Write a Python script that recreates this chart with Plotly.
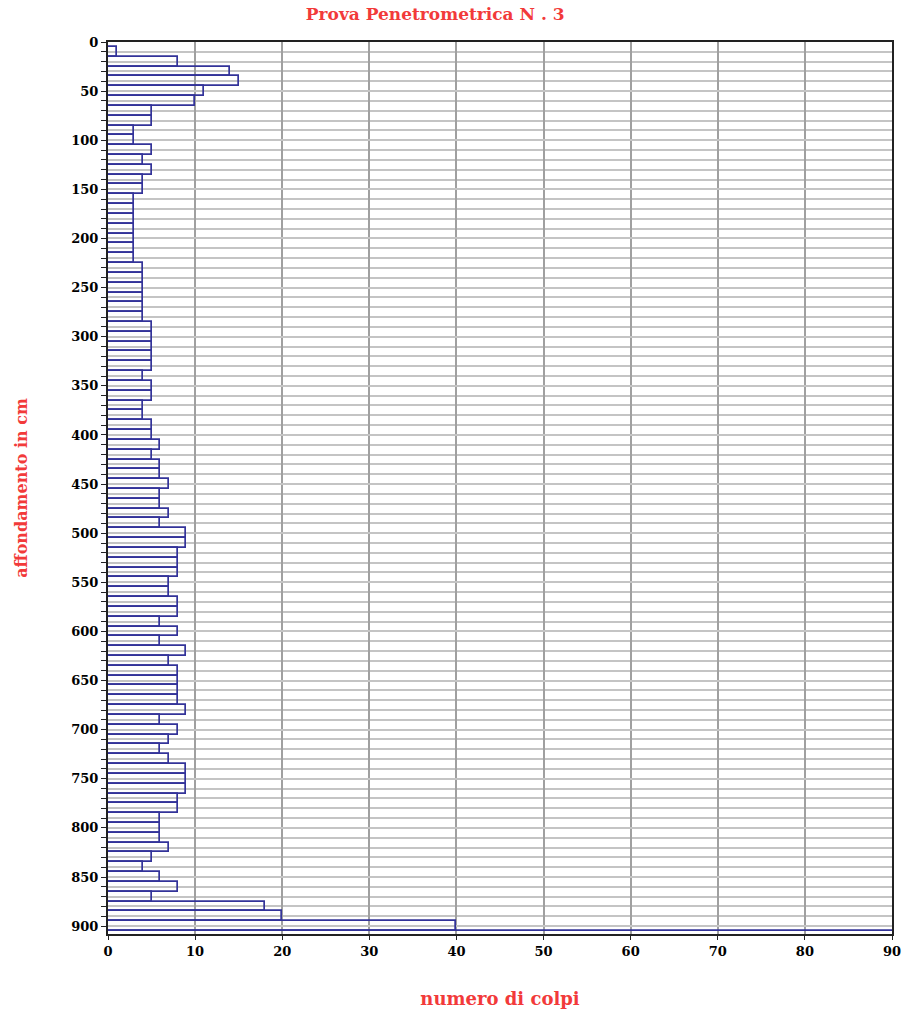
import plotly.graph_objects as go

depths = list(range(10, 920, 10))
colpi = [1, 8, 14, 15, 11, 10, 5, 5, 3, 3,
         5, 4, 5, 4, 4, 3, 3, 3, 3, 3,
         3, 3, 4, 4, 4, 4, 4, 4, 5, 5,
         5, 5, 5, 4, 5, 5, 4, 4, 5, 5,
         6, 5, 6, 6, 7, 6, 6, 7, 6, 9,
         9, 8, 8, 8, 7, 7, 8, 8, 6, 8,
         6, 9, 7, 8, 8, 8, 8, 9, 6, 8,
         7, 6, 7, 9, 9, 9, 8, 8, 6, 6,
         6, 7, 5, 4, 6, 8, 5, 18, 20, 40,
         100]

y_ticks = list(range(0, 901, 50))
x_ticks = list(range(0, 91, 10))

fig = go.Figure(go.Bar(
    y=depths, x=colpi, orientation='h', width=10,
    marker=dict(color='rgba(255,255,255,0)', line=dict(color='#333399', width=1.7)),
    cliponaxis=True,
))

font_fam = "DejaVu Serif, serif"
red = '#f23a3a'
fig.update_layout(
    width=903, height=1009,
    margin=dict(l=108, r=11, t=42, b=75, autoexpand=False),
    paper_bgcolor='white', plot_bgcolor='white',
    showlegend=False,
    bargap=0,
    title=dict(text="<b>Prova Penetrometrica N . 3</b>", x=0.482, xanchor='center',
               y=0.986, yanchor='middle',
               font=dict(family=font_fam, size=17, color=red)),
    font=dict(family=font_fam, size=13, color='black'),
)
fig.update_xaxes(
    range=[0, 90], tickvals=x_ticks, ticktext=[f"<b>{v}</b>" for v in x_ticks],
    automargin=False,
    showgrid=True, gridcolor='#a0a0a0', gridwidth=1.5,
    showline=True, linecolor='#222', linewidth=2, mirror=True,
    ticks='outside', ticklen=4, tickcolor='#222',
    zeroline=False,
    title=dict(text="<b>numero di colpi</b>", standoff=35,
               font=dict(family=font_fam, size=18, color=red)),
)
fig.update_yaxes(
    range=[908, 0], tickvals=y_ticks, ticktext=[f"<b>{v}</b>" for v in y_ticks],
    automargin=False,
    showgrid=True, gridcolor='#c4c4c4', gridwidth=2,
    minor=dict(dtick=10, tick0=0, ticks='outside', ticklen=5, tickcolor='#222',
               showgrid=True, gridcolor='#c4c4c4', gridwidth=2),
    showline=True, linecolor='#222', linewidth=2, mirror=True,
    ticks='outside', ticklen=5, tickcolor='#222',
    zeroline=False,
    title=dict(text="<b>affondamento in cm</b>", standoff=40,
               font=dict(family=font_fam, size=16, color=red)),
)

fig.write_html("out.html", config={'displayModeBar': False},
               post_script="document.body.style.margin='0px';document.body.style.overflow='hidden';")
